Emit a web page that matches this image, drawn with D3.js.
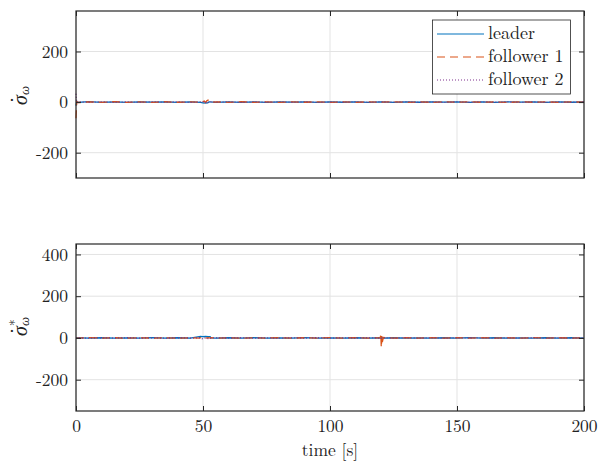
<!DOCTYPE html>
<html><head><meta charset="utf-8">
<script src="https://cdn.jsdelivr.net/npm/d3@7"></script>
<style>body{margin:0;background:#fff}</style>
</head><body>
<svg id="c" width="609" height="462"></svg>
<script>
// ---------- data ----------
const xTicks = [0, 50, 100, 150, 200];
const topYTicks = [-200, 0, 200];
const botYTicks = [-200, 0, 200, 400];
const seriesNames = ["leader", "follower 1", "follower 2"];
const seriesColors = ["#0072BD", "#D95319", "#7E2F8E"];

const tTop = [0,0.3,1,5,10,15,20,25,30,35,40,45,49,50,50.5,51,51.5,52,52.5,53,55,60,65,70,75,80,85,90,95,100,105,110,115,120,125,130,135,140,145,150,155,160,165,170,175,180,185,190,195,200];
const leaderTop = [-14,1,-1,1.5,-1,0.5,-1.5,1,-0.5,1.2,-1,0.8,-1,-3,-4,-2,-3.5,-2,1,0.5,-1,1.2,-0.8,0.6,-1.1,0.9,-0.5,1,-1.2,0.7,-0.6,1.1,-0.9,0.5,-1,0.8,-0.7,1.2,-0.4,0.9,-1.1,0.6,-0.8,1,-0.5,0.7,-1,0.9,-0.6,0.4];
const follower1Top = [-64,2,-1.5,1,-0.8,1.5,-1.2,0.9,-1,1.3,-0.7,1,-0.5,2,4,-2,5,8,2,-1,1.2,-0.9,1.4,-1,0.8,-1.3,1,-0.7,1.2,-1,0.9,-1.2,1.1,-0.6,1.3,-1,0.7,-1.1,1,-0.8,1.2,-0.9,0.6,-1.2,1,-0.7,1.1,-1,0.8,-0.5];
const follower2Top = [33,-2,1,-0.6,0.9,-1,0.7,-0.9,1.1,-0.5,0.8,-1,0.6,1,3,-1.5,2,-1,0.5,0.8,-0.6,0.9,-1,0.7,-0.8,1,-0.6,0.9,-1.1,0.5,-0.7,1,-0.9,0.8,-0.5,1.1,-0.8,0.6,-1,0.9,-0.7,1,-0.6,0.8,-1,0.7,-0.9,0.5,-0.8,0.6];

const tBot = [0,5,10,15,20,25,30,35,40,45,48.5,49,50,51,52,52.8,53,55,60,65,70,75,80,85,90,95,100,105,110,115,119.8,120,120.2,120.4,120.6,121,125,130,135,140,145,150,155,160,165,170,175,180,185,190,195,200];
const leaderBot = [1,-0.8,1,-1,0.7,-0.9,1.1,-0.6,0.8,-1, 6,7,6.5,7,6,6.5,0.5, -1,0.9,-0.7,1,-1.1,0.6,-0.8,1.2,-0.9,0.7,-1,0.8,-0.6, 0.9,-1,1,-0.8,0.7,-0.5, 1,-0.9,0.6,-1,0.8,-0.7,1.1,-0.6,0.9,-1,0.7,-0.8,1,-0.5,0.8,-0.9];
const follower1Bot = [-1,1.2,-0.8,1,-1.1,0.9,-0.7,1.1,-1,0.8, -0.9,1,2,-1,1.5,-0.8,1, -1,0.8,-1.2,1,-0.7,1.1,-0.9,0.8,-1,1.2,-0.6,0.9,-1.1, 1,17,-46,10,-20,2, -1,1.1,-0.8,0.9,-1.2,1,-0.7,1.1,-0.9,0.8,-1,1.2,-0.6,0.9,-1,0.7];
const follower2Bot = [0.6,-0.9,0.8,-0.6,1,-0.8,0.7,-1,0.9,-0.5, 0.8,-1,-5,1,-3,0.5,-0.7, 0.9,-0.7,1,-0.8,0.6,-1,0.8,-0.6,1.1,-0.9,0.7,-0.5,1, -0.8,0.6,-1,0.9,-0.5,0.7, -0.6,1,-0.8,0.7,-1,0.9,-0.5,0.8,-1.1,0.6,-0.7,1,-0.9,0.5,-0.8,0.7];

// ---------- layout ----------
const FONT = "Latin Modern Roman";
const GREEK = "Liberation Serif";
const svg = d3.select("#c");
const L = 76, R = 584;
const panels = [
  {top: 11, bottom: 178, domain: [-300, 360], yTicks: topYTicks, t: tTop,
   series: [leaderTop, follower1Top, follower2Top], showX: false},
  {top: 244, bottom: 411, domain: [-350, 450], yTicks: botYTicks, t: tBot,
   series: [leaderBot, follower1Bot, follower2Bot], showX: true}
];
const dashes = [null, "8,5", "1,2"];
const axisColor = "#262626";
const tickLen = 5;

const x = d3.scaleLinear().domain([0, 200]).range([L, R]);

panels.forEach((p, pi) => {
  const y = d3.scaleLinear().domain(p.domain).range([p.bottom, p.top]);
  const g = svg.append("g");
  g.selectAll(".gx").data(xTicks).join("line")
    .attr("x1", d => x(d)).attr("x2", d => x(d)).attr("y1", p.top).attr("y2", p.bottom)
    .attr("stroke", "#e3e3e3").attr("stroke-width", 1);
  g.selectAll(".gy").data(p.yTicks).join("line")
    .attr("x1", L).attr("x2", R).attr("y1", d => y(d)).attr("y2", d => y(d))
    .attr("stroke", "#e3e3e3").attr("stroke-width", 1);

  const cid = "clip" + pi;
  svg.append("clipPath").attr("id", cid).append("rect")
    .attr("x", L - 1).attr("y", p.top).attr("width", R - L + 1).attr("height", p.bottom - p.top);
  const lg = svg.append("g").attr("clip-path", `url(#${cid})`);
  const line = d3.line().x(d => x(d[0])).y(d => y(d[1]));
  p.series.forEach((vals, si) => {
    const pts = p.t.map((tt, i) => [tt, vals[i]]);
    lg.append("path").datum(pts).attr("d", line)
      .attr("fill", "none").attr("stroke", seriesColors[si])
      .attr("stroke-width", 1.3)
      .attr("stroke-dasharray", dashes[si]);
  });

  const ax = svg.append("g");
  const axL = d3.axisLeft(y).tickValues(p.yTicks).tickSizeInner(-tickLen).tickSizeOuter(0).tickPadding(8)
    .tickFormat(d => String(d));
  ax.append("g").attr("transform", `translate(${L},0)`).call(axL);
  const axR = d3.axisRight(y).tickValues(p.yTicks).tickSizeInner(-tickLen).tickSizeOuter(0).tickFormat("");
  ax.append("g").attr("transform", `translate(${R},0)`).call(axR);
  const axB = d3.axisBottom(x).tickValues(xTicks).tickSizeInner(-tickLen).tickSizeOuter(0).tickPadding(9)
    .tickFormat(p.showX ? (d => String(d)) : "");
  ax.append("g").attr("transform", `translate(0,${p.bottom})`).call(axB);
  const axT = d3.axisTop(x).tickValues(xTicks).tickSizeInner(-tickLen).tickSizeOuter(0).tickFormat("");
  ax.append("g").attr("transform", `translate(0,${p.top})`).call(axT);
  ax.selectAll("g").attr("font-family", FONT);
  ax.selectAll(".domain").remove();
  ax.selectAll(".tick line").attr("stroke", axisColor).attr("stroke-width", 1);
  ax.selectAll(".tick text").attr("font-family", FONT).attr("font-size", 17.5).attr("fill", "#222");
  svg.append("rect").attr("x", L).attr("y", p.top).attr("width", R - L).attr("height", p.bottom - p.top)
    .attr("fill", "none").attr("stroke", axisColor).attr("stroke-width", 1.2);

  // y label (rotated group; x = along text, y = down)
  const cy = pi === 0 ? 96 : 327;
  const yl = svg.append("g").attr("transform", `translate(27,${cy}) rotate(-90)`).attr("fill", "#222");
  yl.append("text").attr("x", -9).attr("y", 0).attr("font-family", GREEK).attr("font-size", 20)
    .attr("font-style", "italic").text("σ");
  yl.append("text").attr("x", -4).attr("y", -2).attr("font-family", GREEK).attr("font-size", 20)
    .attr("text-anchor", "middle").text("˙");
  if (pi === 1) {
    yl.append("text").attr("x", 1).attr("y", -8).attr("font-family", FONT).attr("font-size", 13).text("*");
  }
  yl.append("text").attr("x", 1).attr("y", 2).attr("font-family", GREEK).attr("font-size", 13)
    .attr("font-style", "italic").text("ω");
});

svg.append("text").attr("x", x(100)).attr("y", 456).attr("text-anchor", "middle")
  .attr("font-family", FONT).attr("font-size", 17.5).attr("fill", "#222").text("time [s]");

const lgd = svg.append("g");
lgd.append("rect").attr("x", 432.5).attr("y", 20).attr("width", 138).attr("height", 74)
  .attr("fill", "#fff").attr("stroke", axisColor).attr("stroke-width", 0.8);
seriesNames.forEach((n, i) => {
  const yy = 34 + i * 23;
  lgd.append("line").attr("x1", 437).attr("x2", 484).attr("y1", yy).attr("y2", yy)
    .attr("stroke", seriesColors[i]).attr("stroke-width", 1.2).attr("stroke-dasharray", dashes[i]);
  lgd.append("text").attr("x", 488).attr("y", yy + 4.5).attr("font-family", FONT)
    .attr("font-size", 18).attr("fill", "#222").text(n);
});
</script>
</body></html>
